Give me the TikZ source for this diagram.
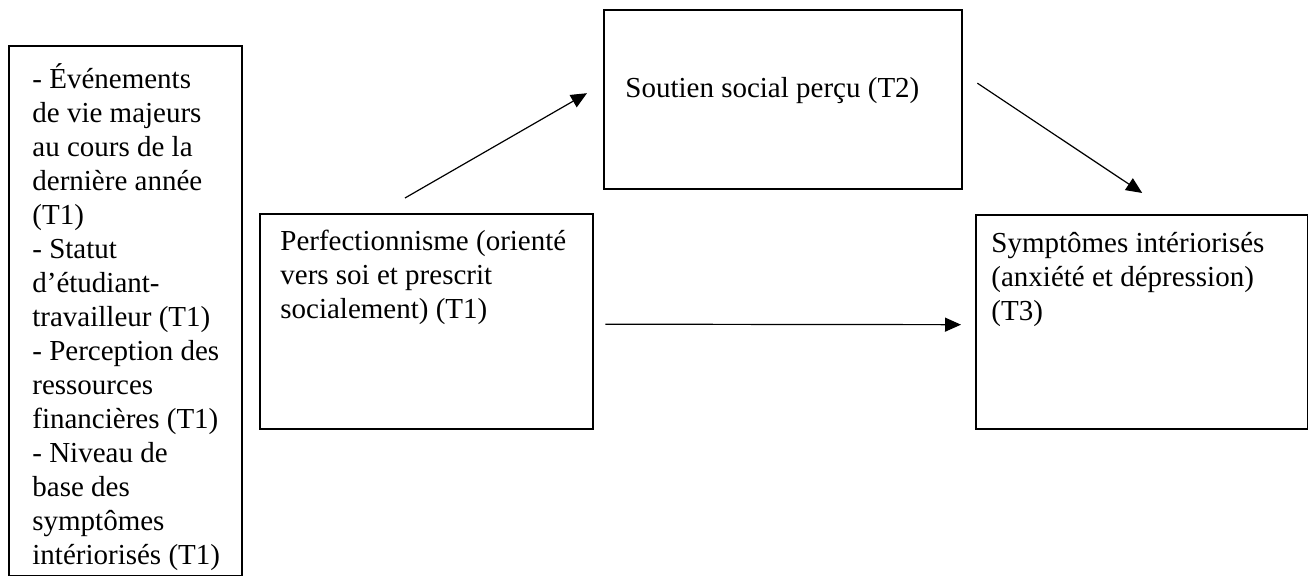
\documentclass[tikz,border=0pt]{standalone}
\usepackage{fontspec}
\setmainfont{Liberation Serif}
\usetikzlibrary{arrows.meta}
\tikzset{
	boite/.style={draw, line width=1.2pt, anchor=north west, inner sep=0pt},
	texte/.style={anchor=north west, inner sep=0pt, align=left, font=\fontsize{14.5pt}{17pt}\selectfont},
	fleche/.style={-{Triangle[length=8pt,width=7pt]}, line width=0.6pt}
}
\begin{document}
\begin{tikzpicture}[x=0.5pt,y=-0.5pt]
			\useasboundingbox (0,0) rectangle (1308,576);
			\node[boite, minimum width=116.5pt, minimum height=265pt] (covar) at (8,45) {};
			\node[boite, minimum width=166.5pt, minimum height=107.5pt] (perf) at (259,213) {};
			\node[boite, minimum width=179pt, minimum height=89.5pt] (soutien) at (603,9) {};
			\node[boite, minimum width=166pt, minimum height=107pt] (sympt) at (975,214) {};
			\node[texte] (covartxt) at (32,45) {\rule{0pt}{21.5pt}- Événements\\de vie majeurs\\au cours de la\\dernière année\\(T1)\\- Statut\\d’étudiant-\\travailleur (T1)\\- Perception des\\ressources\\financières (T1)\\- Niveau de\\base des\\symptômes\\intériorisés (T1)};
			\node[texte] (perftxt) at (280,213) {\rule{0pt}{18.5pt}Perfectionnisme (orienté\\vers soi et prescrit\\socialement) (T1)};
			\node[texte] (soutientxt) at (625,9) {\rule{0pt}{44pt}Soutien social perçu (T2)};
			\node[texte] (sympttxt) at (991,214) {\rule{0pt}{19pt}Symptômes intériorisés\\(anxiété et dépression)\\(T3)};
			\draw[fleche] ([xshift=73pt,yshift=7.5pt]perf.north west) -- ([xshift=-8pt,yshift=3.25pt]soutien.west);
			\draw[fleche] ([xshift=7pt,yshift=8.25pt]soutien.east) -- ([yshift=10.5pt]sympt.north);
			\draw[fleche, shorten <=5.5pt, shorten >=7pt] ([yshift=-1.25pt]perf.east) -- ([yshift=-1.25pt]sympt.west);
	\end{tikzpicture}
\end{document}
